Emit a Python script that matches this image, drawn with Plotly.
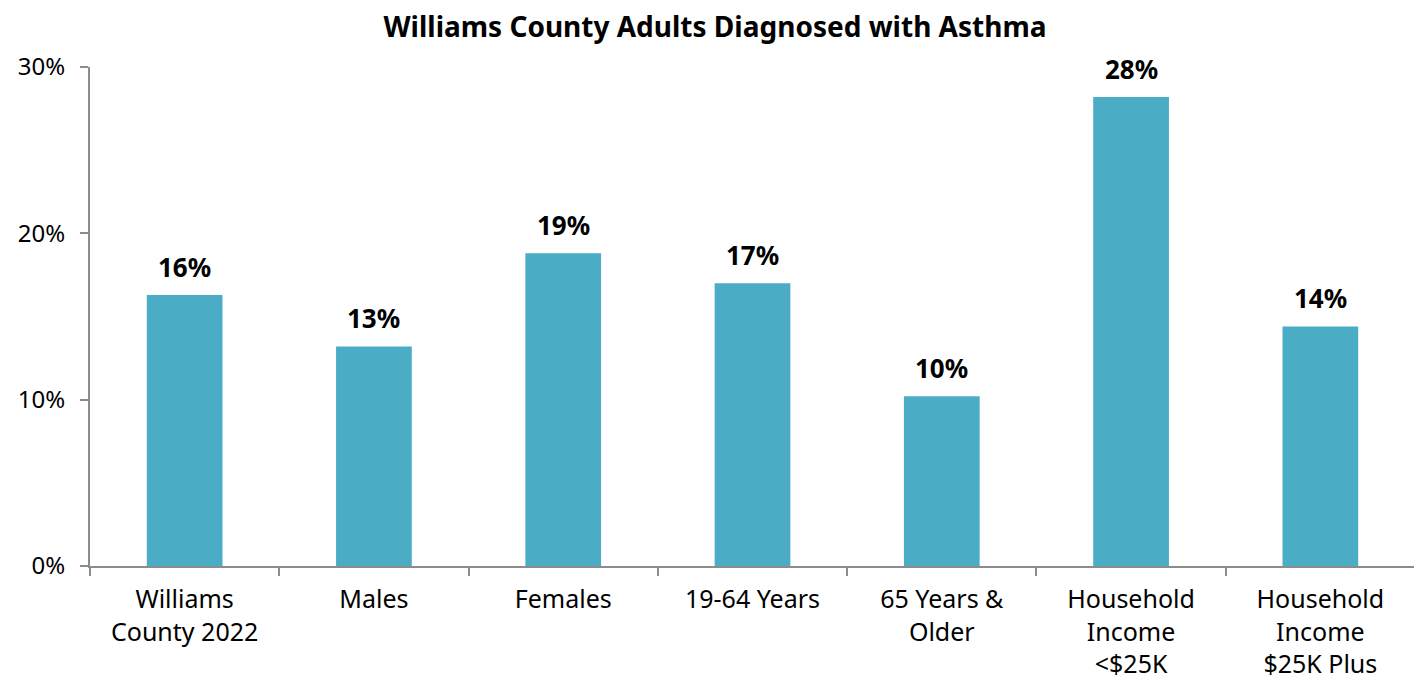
import plotly.graph_objects as go

categories = ["Williams<br>County 2022", "Males", "Females", "19-64 Years",
              "65 Years &<br>Older", "Household<br>Income<br><$25K", "Household<br>Income<br>$25K Plus"]
values = [16.3, 13.2, 18.8, 17.0, 10.2, 28.2, 14.4]
labels = ["16%", "13%", "19%", "17%", "10%", "28%", "14%"]
y_ticks = [0, 10, 20, 30]
y_tick_labels = ["0%", "10%", "20%", "30%"]

FONT = "Noto Sans, Open Sans, sans-serif"

fig = go.Figure(go.Bar(
    x=categories, y=values,
    marker=dict(color="#4BACC6", line=dict(width=0)),
    width=0.4, cliponaxis=False,
))

for c, v, t in zip(categories, values, labels):
    fig.add_annotation(x=c, y=v, text=f"<b>{t}</b>", showarrow=False,
                       yanchor="bottom", yshift=8,
                       font=dict(family=FONT, size=26, color="#000000"))

fig.update_layout(
    width=1414, height=672,
    margin=dict(l=82, r=7, t=59, b=114),
    paper_bgcolor="white", plot_bgcolor="white",
    title=dict(text="<b>Williams County Adults Diagnosed with Asthma</b>",
               x=0.5, xanchor="center", y=1 - 19 / 672, yanchor="middle",
               font=dict(family=FONT, size=28, color="#000000")),
    font=dict(family=FONT, size=25, color="#000000"),
    showlegend=False,
)
fig.update_xaxes(
    showline=True, linecolor="#8c8c8c", linewidth=2,
    ticks="outside", tickson="boundaries", ticklen=8, tickcolor="#8c8c8c", tickwidth=2,
    showgrid=False, automargin=False, ticklabelstandoff=10,
    tickfont=dict(family=FONT, size=25, color="#000000"),
)
fig.update_yaxes(
    range=[0, 30], tickvals=y_ticks, ticktext=y_tick_labels,
    showline=True, linecolor="#8c8c8c", linewidth=2,
    ticks="outside", ticklen=8, tickcolor="#8c8c8c", tickwidth=2,
    showgrid=False, zeroline=False, automargin=False, ticklabelstandoff=10,
    tickfont=dict(family=FONT, size=24, color="#000000"),
)

fig.write_html("out.html")
